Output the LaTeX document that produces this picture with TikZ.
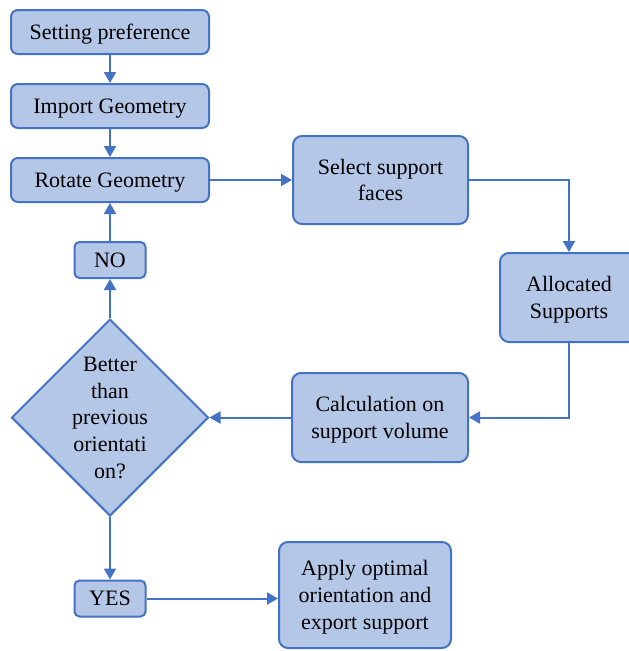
\documentclass[tikz,border=0pt]{standalone}
\usepackage{fontspec}
\setmainfont{Liberation Serif}
\usetikzlibrary{shapes.geometric,arrows.meta}
\definecolor{boxfill}{HTML}{B4C7E7}
\definecolor{boxline}{HTML}{4472C4}
\tikzset{
  box/.style={draw=boxline, fill=boxfill, line width=2pt, rounded corners=9pt,
    inner sep=0pt, align=center, text depth=0pt, font=\fontsize{22}{26.7}\selectfont},
  stepbox/.style={box, rounded corners=7pt, minimum width=198pt, minimum height=44pt},
  answer/.style={box, rounded corners=5pt, minimum width=71pt, minimum height=36pt},
  decision/.style={diamond, draw=boxline, fill=boxfill, line width=2pt, inner sep=0pt,
    minimum width=197pt, minimum height=197pt},
  flow/.style={draw=boxline, line width=2pt, -{Triangle[length=11pt,width=12pt]}}
}
\begin{document}
\begin{tikzpicture}[x=1pt,y=-1pt]
  \useasboundingbox (0,0) rectangle (629,651);
  \draw
    (110,32) node[stepbox] (pref){Setting preference}
    (110,106) node[stepbox] (imp){Import Geometry}
    (110,180) node[stepbox] (rot){Rotate Geometry}
    (380.5,180) node[box, minimum width=175pt, minimum height=88pt] (faces){Select support\\faces}
    (569,297.5) node[box, minimum width=138pt, minimum height=89pt] (alloc){Allocated\\Supports}
    (380,417.5) node[box, minimum width=176pt, minimum height=89pt] (calc){Calculation on\\support volume}
    (110,417.5) node[decision] (better){}
    (110,417.5) node[align=center, text depth=0pt, font=\fontsize{22}{26.7}\selectfont] (betterq){Better\\than\\previous\\orientati\\on?}
    (110,260) node[answer] (no){NO}
    (110,598.5) node[answer] (yes){YES}
    (365,595) node[box, minimum width=172pt, minimum height=106pt] (apply){Apply optimal\\orientation and\\export support};
  \begin{scope}[flow]
    \draw (pref) to (imp);
    \draw (imp) to (rot);
    \draw (rot.east) -- (rot.east -| faces.west);
    \draw (faces.east) -| (alloc.north);
    \draw (alloc.south) |- (calc.east);
    \draw (calc.west) -- (better.east);
    \draw (better.north) -- (no.south);
    \draw (no.north) -- (rot.south);
    \draw (better.south) -- (yes.north);
    \draw (yes.east) -- (yes.east -| apply.west);
  \end{scope}
\end{tikzpicture}
\end{document}
